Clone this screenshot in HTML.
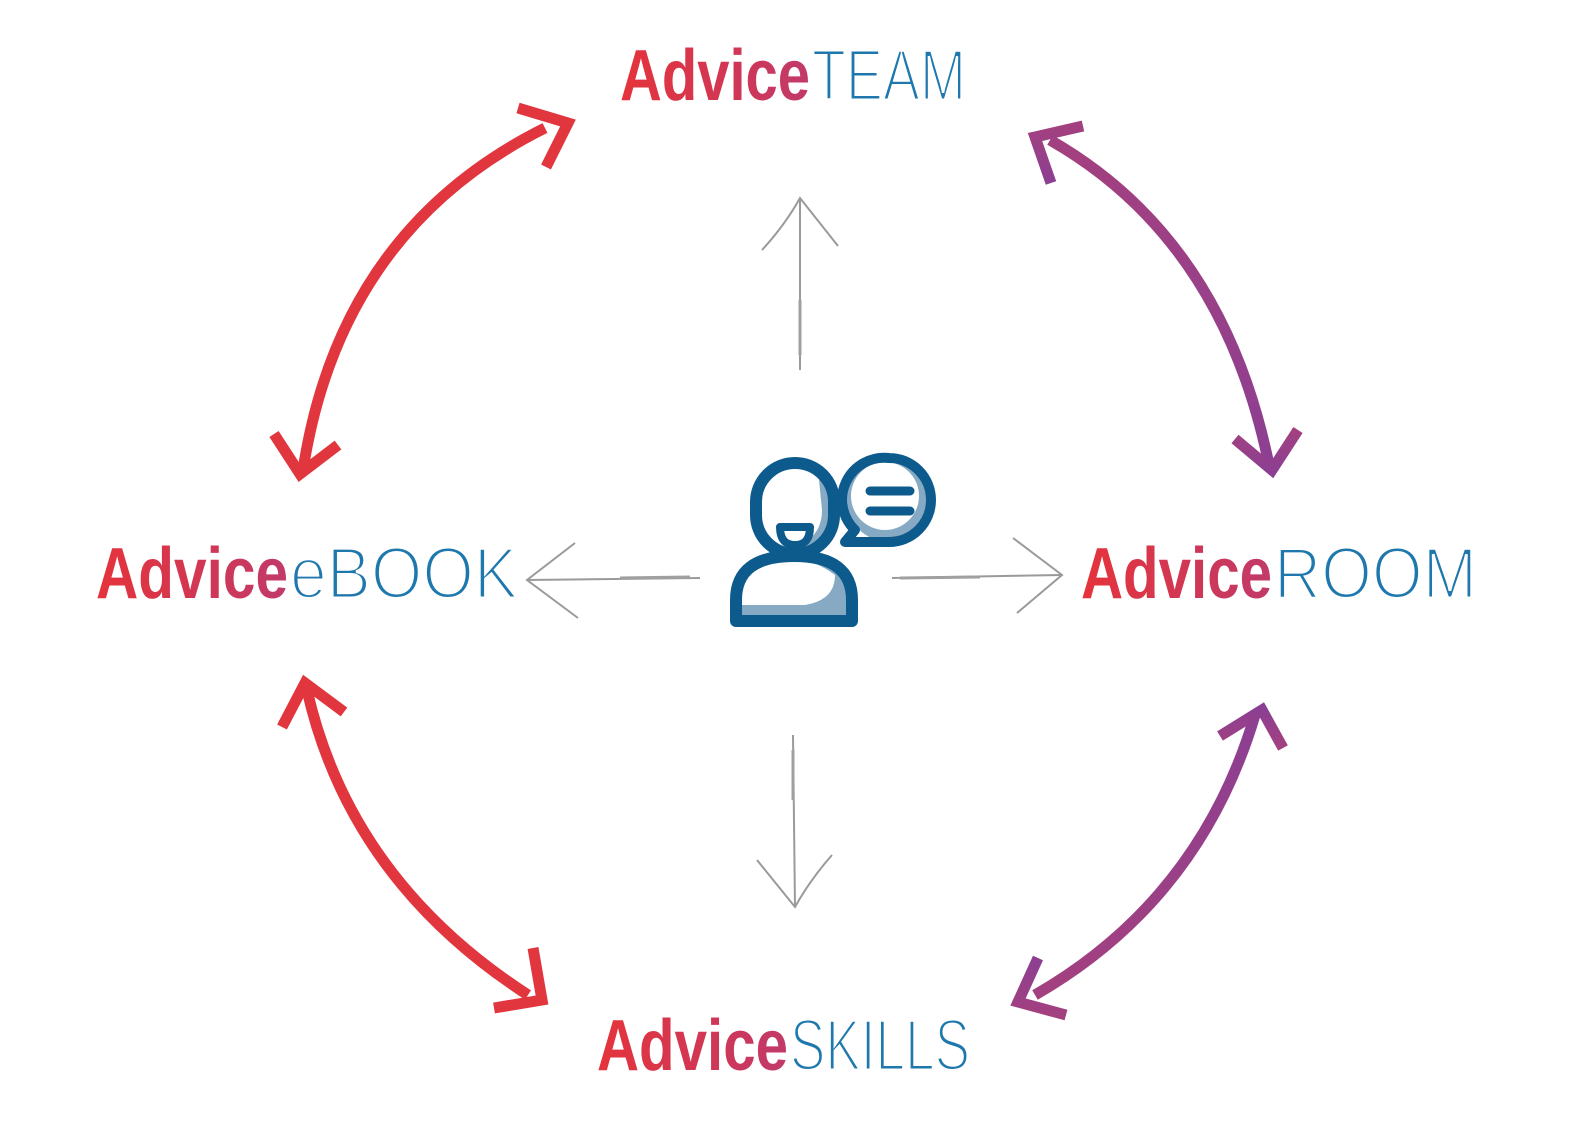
<!DOCTYPE html>
<html><head><meta charset="utf-8"><style>html,body{margin:0;padding:0;background:#fff}svg{display:block}</style></head>
<body>
<svg width="1586" height="1148" viewBox="0 0 1586 1148" xmlns="http://www.w3.org/2000/svg">
<defs>
<linearGradient id="g" x1="0" x2="1" y1="0" y2="0"><stop offset="0" stop-color="#e5333a"/><stop offset="1" stop-color="#c13a6a"/></linearGradient>
<linearGradient id="rp" x1="0" x2="0" y1="0" y2="1"><stop offset="0" stop-color="#a3407f"/><stop offset="1" stop-color="#8c3f92"/></linearGradient>
<linearGradient id="rp2" x1="0" x2="0" y1="0" y2="1"><stop offset="0" stop-color="#8c3f92"/><stop offset="1" stop-color="#a3407f"/></linearGradient>
</defs>
<g font-family="Liberation Sans, sans-serif" font-size="72">
<text x="620" y="100" font-weight="bold" fill="url(#g)" textLength="190" lengthAdjust="spacingAndGlyphs">Advice</text>
<text x="96" y="598" font-weight="bold" fill="url(#g)" textLength="192" lengthAdjust="spacingAndGlyphs">Advice</text>
<text x="1081" y="598" font-weight="bold" fill="url(#g)" textLength="191" lengthAdjust="spacingAndGlyphs">Advice</text>
<text x="597" y="1070" font-weight="bold" fill="url(#g)" textLength="191" lengthAdjust="spacingAndGlyphs">Advice</text>
<g fill="#1f78ad" stroke="#fff" stroke-width="3" font-size="72">
<text x="812" y="100" textLength="154" lengthAdjust="spacingAndGlyphs">TEAM</text>
<text x="290" y="598" textLength="228" lengthAdjust="spacingAndGlyphs">eBOOK</text>
<text x="1274" y="598" textLength="203" lengthAdjust="spacingAndGlyphs">ROOM</text>
<text x="790" y="1070" textLength="180" lengthAdjust="spacingAndGlyphs">SKILLS</text>
</g>
</g>
<g fill="none" stroke-width="11">
<g stroke="#e2363f">
<path d="M545,128 Q340,230 303,470"/>
<path d="M518,108 L568,123 L546,167"/>
<path d="M274,434 L300,474 L338,445"/>
<path d="M307,690 Q350,880 528,995"/>
<path d="M282,727 L305,683 L344,712"/>
<path d="M533,948 L542,1000 L494,1008"/>
</g>
<g stroke="url(#rp)">
<path d="M1050,140 Q1225,240 1270,470"/>
<path d="M1083,126 L1035,137 L1051,183"/>
<path d="M1235,439 L1272,470 L1298,430"/>
</g>
<g stroke="url(#rp2)">
<path d="M1255,715 Q1200,900 1035,995"/>
<path d="M1220,736 L1262,710 L1283,748"/>
<path d="M1066,1015 L1018,1002 L1038,958"/>
</g>
</g>
<g fill="none" stroke="#9a9a9a" stroke-width="2">
<path d="M800,370 L800,198"/><path d="M762,250 Q785,225 800,198 L838,246"/>
<path d="M700,578 L527,580"/><path d="M575,543 L527,580 L578,618"/>
<path d="M892,578 L1062,575"/><path d="M1013,538 L1062,575 L1017,613"/>
<path d="M793,735 L795,907"/><path d="M757,860 L795,907 Q810,880 832,855"/>
</g>
<g stroke-width="3" stroke="#a0a0a0"><path d="M800,300 L800,355"/><path d="M620,578 L690,577"/><path d="M900,578 L980,577"/><path d="M793,750 L793,800"/></g>
<g>
<path d="M818,470 Q832,480 832,500 L832,530 Q820,548 796,550 L790,548 Q822,540 822,510 Z" fill="#86aac4"/>
<path d="M736,618 L736,595 Q736,556 790,556 Q852,556 852,598 L852,618 Z" fill="#86aac4"/>
<path d="M740,605 L805,605 Q835,600 835,575 Q815,560 795,560 Q740,560 740,595 Z" fill="#fff"/>
<rect x="756" y="463" width="78" height="91" rx="39" fill="none" stroke="#0d5a8c" stroke-width="12"/>
<path d="M736,621 L736,600 Q736,556 794,556 Q852,556 852,600 L852,621 Z" fill="none" stroke="#0d5a8c" stroke-width="12" stroke-linejoin="round"/>
<path d="M780,527 L810,527 Q810,545 795,545 Q780,545 780,527 Z" fill="#fff" stroke="#0d5a8c" stroke-width="8" stroke-linejoin="round"/>
<circle cx="889" cy="500" r="42" fill="#86aac4"/>
<circle cx="885" cy="496" r="34" fill="#fff"/>
<path d="M889,458 A42,42 0 1 1 889,542 L845,542 L855,530 A42,42 0 0 1 889,458 Z" fill="none" stroke="#0d5a8c" stroke-width="10" stroke-linejoin="round"/>
<path d="M870,491 L910,491 M870,511 L910,511" stroke="#0d5a8c" stroke-width="9" stroke-linecap="round"/>
</g>
</svg>
</body></html>
